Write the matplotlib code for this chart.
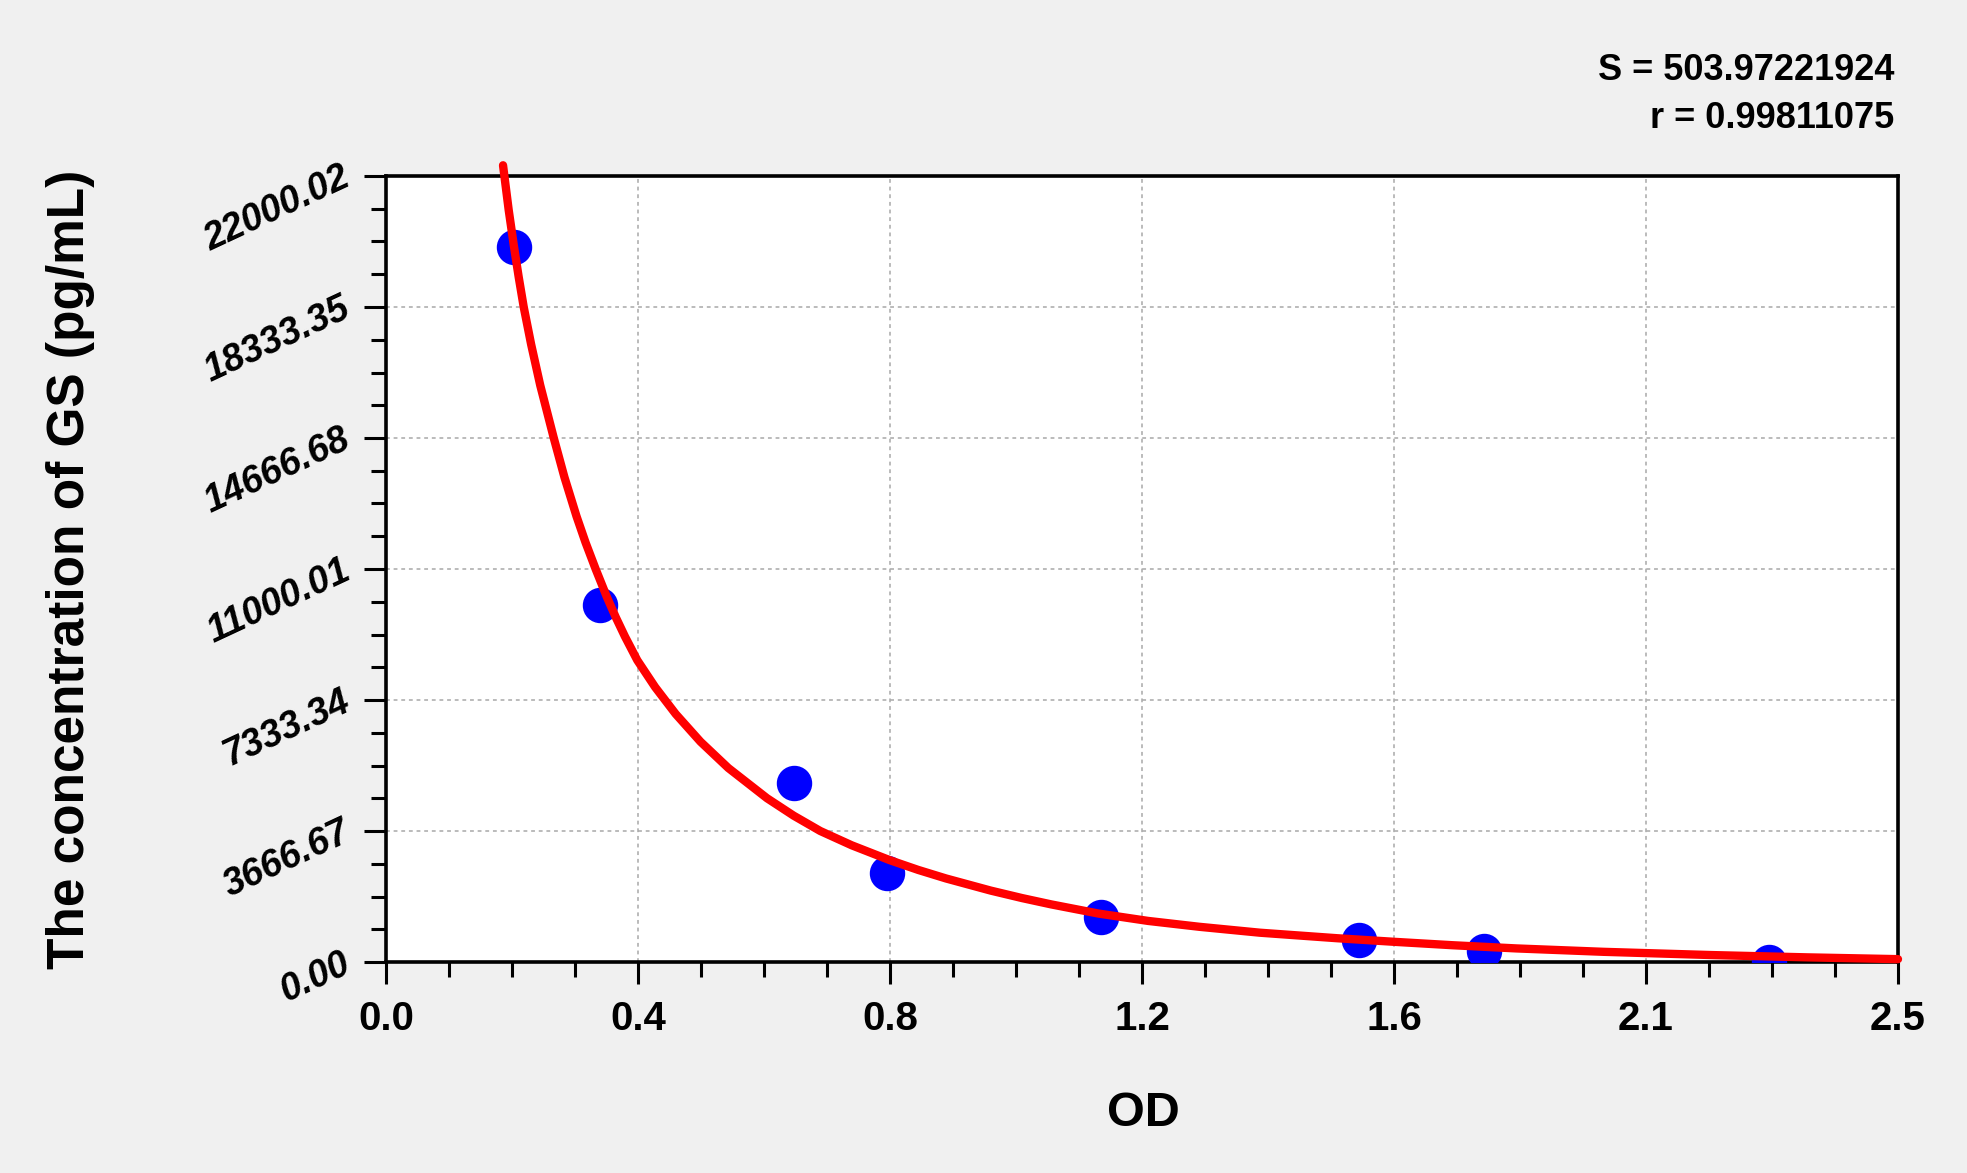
import numpy as np
import matplotlib
matplotlib.use("Agg")
import matplotlib.pyplot as plt
from matplotlib.ticker import AutoMinorLocator, FixedLocator

# standards (OD vs concentration)
od = [0.211, 0.354, 0.674, 0.828, 1.182, 1.609, 1.816, 2.286]
conc = [20000, 10000, 5000, 2500, 1250, 625, 312.5, 0]

# fitted curve
fit_od = [0.1935, 0.2029, 0.2112, 0.2194, 0.2277, 0.240, 0.255, 0.2774,
          0.295, 0.315, 0.33, 0.3466, 0.365, 0.38, 0.395, 0.4155, 0.445,
          0.479, 0.52, 0.566, 0.63, 0.674, 0.718, 0.77, 0.833, 0.88,
          0.926, 1.0, 1.052, 1.1, 1.178, 1.26, 1.345, 1.445, 1.573,
          1.667, 1.763, 1.869, 2.013, 2.19, 2.35, 2.5]
fit_conc = [22300, 21043, 20070, 19172, 18333, 17285, 16143, 14667,
            13571, 12475, 11739, 11000, 10224, 9646, 9113, 8446, 7694,
            6942, 6166, 5430, 4584, 4096, 3667, 3267, 2850, 2577,
            2338, 1998, 1788, 1612, 1356, 1150, 985, 820, 665,
            565, 470, 380, 285, 195, 130, 80]

x_tick_labels = ["0.0", "0.4", "0.8", "1.2", "1.6", "2.1", "2.5"]
y_ticks = [0.00, 3666.67, 7333.34, 11000.01, 14666.68, 18333.35, 22000.02]

stats = ["S = 503.97221924", "r = 0.99811075"]

W, H = 1967, 1173
plt.rcParams["font.family"] = ["Liberation Sans", "DejaVu Sans"]
plt.rcParams["font.weight"] = "bold"

fig = plt.figure(figsize=(W / 100, H / 100), dpi=100, facecolor="#f0f0f0")
ax = fig.add_axes([386 / W, 1 - 962 / H, (1898 - 386) / W, (962 - 176) / H])
ax.set_facecolor("white")

ax.plot(od, conc, "o", color="#0000ff", markersize=24.5, zorder=3)
ax.plot(fit_od, fit_conc, "-", color="#ff0000", linewidth=6, zorder=4,
        clip_on=False, solid_capstyle="round", solid_joinstyle="round")

ax.set_xlim(0, 2.5)
ax.set_ylim(0, 22000.02)
ax.xaxis.set_major_locator(FixedLocator(np.linspace(0, 2.5, len(x_tick_labels))))
ax.set_xticklabels(x_tick_labels, fontsize=29, fontweight="bold")
ax.yaxis.set_major_locator(FixedLocator(y_ticks))
ax.set_yticklabels([f"{v:.2f}" for v in y_ticks], fontsize=27,
                   fontweight="bold", fontstyle="italic", rotation=25,
                   rotation_mode="anchor", ha="right", va="center")
ax.xaxis.set_minor_locator(AutoMinorLocator(4))
ax.yaxis.set_minor_locator(AutoMinorLocator(4))

ax.tick_params(which="major", direction="out", length=16, width=2.2,
               color="black", top=False, right=False)
ax.tick_params(which="minor", direction="out", length=11, width=2.2,
               color="black", top=False, right=False)
ax.tick_params(axis="x", which="major", pad=11)
ax.tick_params(axis="y", which="major", pad=11)

for s in ax.spines.values():
    s.set_linewidth(2.6)
    s.set_color("black")

ax.grid(True, which="major", color="#a8a8a8", linestyle=(0, (2.5, 2.5)),
        linewidth=1.1)
ax.set_axisbelow(True)

fig.text(71 / W, 1 - 569 / H, "The concentration of GS (pg/mL)", rotation=90,
         ha="center", va="center", fontsize=37, fontweight="bold")
fig.text(1143 / W, 1 - 1113 / H, "OD", ha="center", va="center",
         fontsize=35, fontweight="bold")
fig.text(1894 / W, 1 - 70 / H, stats[0], ha="right", va="center",
         fontsize=26, fontweight="bold")
fig.text(1894 / W, 1 - 118 / H, stats[1], ha="right", va="center",
         fontsize=26, fontweight="bold")

fig.savefig("out.png", dpi=100, facecolor=fig.get_facecolor())
